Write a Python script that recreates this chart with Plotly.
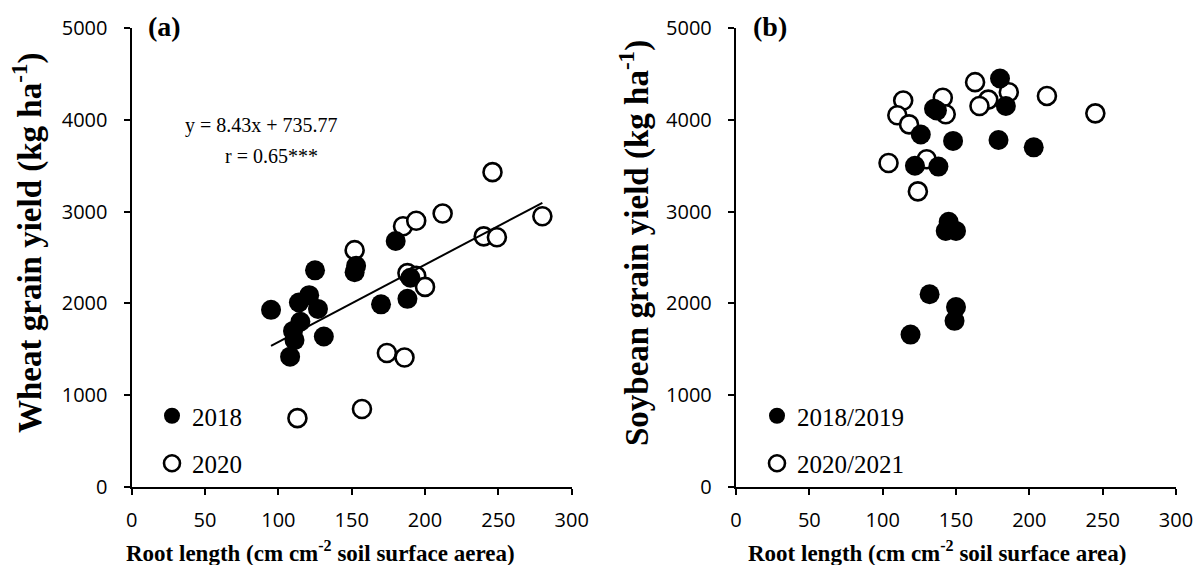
import plotly.graph_objects as go
from plotly.subplots import make_subplots

# ---------------- data ----------------
wheat_2018_x = [95, 108, 110, 111, 114, 115, 121, 125, 127, 131, 152, 153, 170, 180, 188, 190]
wheat_2018_y = [1930, 1420, 1700, 1600, 2010, 1800, 2090, 2360, 1940, 1640, 2340, 2410, 1990, 2680, 2050, 2280]
wheat_2020_x = [113, 152, 157, 174, 185, 186, 188, 194, 194, 200, 212, 240, 246, 249, 280]
wheat_2020_y = [750, 2580, 850, 1460, 2840, 1410, 2330, 2300, 2900, 2180, 2980, 2730, 3430, 2720, 2950]

soy_1819_x = [180, 184, 135, 137, 126, 148, 179, 122, 138, 145, 143, 150, 132, 150, 149, 119, 203]
soy_1819_y = [4450, 4150, 4120, 4100, 3840, 3770, 3780, 3500, 3490, 2890, 2790, 2790, 2100, 1960, 1810, 1660, 3700]
soy_2021_x = [114, 110, 118, 141, 143, 163, 186, 172, 166, 104, 130, 124, 212, 245]
soy_2021_y = [4210, 4050, 3950, 4240, 4060, 4410, 4300, 4220, 4150, 3530, 3570, 3220, 4260, 4070]

slope, intercept = 8.43, 735.77
fit_x = [95, 280]
fit_y = [slope * v + intercept for v in fit_x]

x_ticks = [0, 50, 100, 150, 200, 250, 300]
y_ticks = [0, 1000, 2000, 3000, 4000, 5000]

# ---------------- figure ----------------
W, H = 1204, 565
def px(x):
    return x / W
def py(y):
    return (H - y) / H

fig = make_subplots(rows=1, cols=2)

serif = "Liberation Serif"
sans = "Open Sans"

filled = dict(color="black", size=20, line=dict(width=0))
hollow = dict(color="white", size=18, line=dict(color="black", width=2.6))

# panel a
fig.add_trace(go.Scatter(x=wheat_2020_x, y=wheat_2020_y, mode="markers", marker=hollow,
                         name="2020", legend="legend", legendgroup="a2", legendrank=2), 1, 1)
fig.add_trace(go.Scatter(x=wheat_2018_x, y=wheat_2018_y, mode="markers", marker=filled,
                         name="2018", legend="legend", legendgroup="a1", legendrank=1), 1, 1)
fig.add_trace(go.Scatter(x=fit_x, y=fit_y, mode="lines", line=dict(color="black", width=2),
                         showlegend=False, hoverinfo="skip"), 1, 1)

# panel b
fig.add_trace(go.Scatter(x=soy_2021_x, y=soy_2021_y, mode="markers", marker=hollow,
                         name="2020/2021", legend="legend2", legendgroup="b2", legendrank=2), 1, 2)
fig.add_trace(go.Scatter(x=soy_1819_x, y=soy_1819_y, mode="markers", marker=filled,
                         name="2018/2019", legend="legend2", legendgroup="b1", legendrank=1), 1, 2)

axis_common = dict(showline=True, linecolor="black", linewidth=2.4, ticks="outside",
                   tickcolor="black", tickwidth=2.4, ticklen=6, showgrid=False, zeroline=False,
                   tickfont=dict(family=sans, size=20, color="black"))

xa = px(131.7), px(571.7)
xb = px(736), px(1176)
yd = py(487), py(28)

fig.update_xaxes(range=[0, 300], tickvals=x_ticks, ticklabelstandoff=8, **axis_common)
fig.update_yaxes(range=[0, 5000], tickvals=y_ticks, ticklabelstandoff=12, **axis_common)
fig.update_layout(
    xaxis=dict(domain=list(xa)), xaxis2=dict(domain=list(xb)),
    yaxis=dict(domain=list(yd)), yaxis2=dict(domain=list(yd)),
)

leg_common = dict(font=dict(family=serif, size=25, color="black"), bgcolor="rgba(0,0,0,0)",
                  itemsizing="trace", tracegroupgap=12, xanchor="left", yanchor="top",
                  traceorder="grouped")
fig.update_layout(
    legend=dict(x=px(152), y=py(393), **leg_common),
    legend2=dict(x=px(757), y=py(393), **leg_common),
)

ann = []
def add_text(text, x, y, size, bold=False, angle=0, family=serif):
    ann.append(dict(text=("<b>%s</b>" % text) if bold else text, x=px(x), y=py(y),
                    xref="paper", yref="paper", showarrow=False, textangle=angle,
                    font=dict(family=family, size=size, color="black"),
                    xanchor="center", yanchor="middle"))

add_text("(a)", 164, 27, 28, bold=True)
add_text("(b)", 770, 27, 28, bold=True)
add_text("y = 8.43x + 735.77", 261, 125, 20)
add_text("r = 0.65***", 271, 156, 20)
add_text("Wheat grain yield (kg ha<sup>-1</sup>)", 27, 243, 33, bold=True, angle=-90)
add_text("Soybean grain yield (kg ha<sup>-1</sup>)", 634, 243, 33, bold=True, angle=-90)
add_text("Root length (cm cm<sup>-2</sup> soil surface aerea)", 320, 551, 23, bold=True)
add_text("Root length (cm cm<sup>-2</sup> soil surface area)", 937, 551, 23, bold=True)

fig.update_layout(annotations=ann, width=W, height=H,
                  margin=dict(l=0, r=0, t=0, b=0, pad=0, autoexpand=False),
                  paper_bgcolor="white", plot_bgcolor="white", showlegend=True)

fig.write_html("out.html")
